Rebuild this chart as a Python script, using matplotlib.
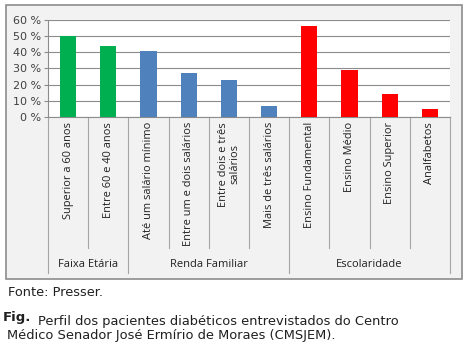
import matplotlib
matplotlib.use('Agg')
from matplotlib import pyplot as plt
from matplotlib.patches import Rectangle

categories = ['Superior a 60 anos', 'Entre 60 e 40 anos',
              'Até um salário mínimo', 'Entre um e dois salários',
              'Entre dois e três\nsalários', 'Mais de três salários',
              'Ensino Fundamental', 'Ensino Médio', 'Ensino Superior',
              'Analfabetos']
values = [50, 44, 41, 27, 23, 7, 56, 29, 14, 5]
groups = ['Faixa Etária', 'Renda Familiar', 'Escolaridade']
group_sizes = [2, 4, 4]
group_colors = ['#00B050', '#4F81BD', '#FF0000']
yticks = [0, 10, 20, 30, 40, 50, 60]

W, H = 470, 360
fig = plt.figure(figsize=(W / 100, H / 100), dpi=100)
fig.patch.set_facecolor('white')

# outer chart box
fig.patches.append(Rectangle((6 / W, 1 - 279 / H), 456 / W, 274 / H,
                             transform=fig.transFigure, facecolor='#F2F2F2',
                             edgecolor='#8C8C8C', linewidth=1.2, zorder=-5))

x0, x1, ytop, ybot = 48, 450, 20, 117
ax = fig.add_axes([x0 / W, 1 - ybot / H, (x1 - x0) / W, (ybot - ytop) / H])
ax.set_facecolor('white')

colors = []
for c, n in zip(group_colors, group_sizes):
    colors += [c] * n

pos = list(range(len(categories)))
ax.bar(pos, values, width=0.4, color=colors, zorder=3)
ax.set_xlim(-0.5, len(categories) - 0.5)
ax.set_ylim(0, 60)
ax.set_yticks(yticks)
ax.set_yticklabels([f'{v} %' for v in yticks])
ax.tick_params(axis='y', length=3, color='#8C8C8C', labelsize=8,
               labelcolor='#404040', pad=2)
ax.set_xticks([])
ax.grid(axis='y', color='#8C8C8C', linewidth=0.8, zorder=0)
for s in ['top', 'right']:
    ax.spines[s].set_visible(False)
for s in ['left', 'bottom']:
    ax.spines[s].set_color('#8C8C8C')
    ax.spines[s].set_linewidth(0.8)

font = 'Open Sans'
tr = ax.get_xaxis_transform()
ph = ybot - ytop
inner_end = (ybot - 248) / ph
group_end = (ybot - 273) / ph
label_top = (ybot - 122) / ph
group_y = (ybot - 265) / ph

for i, lab in enumerate(categories):
    ax.text(i, label_top, lab, rotation=90, ha='center', va='top',
            multialignment='center', transform=tr, fontsize=7.9,
            family=font, color='#202020', linespacing=1.05)

bounds = [0]
for n in group_sizes:
    bounds.append(bounds[-1] + n)
group_bounds = set(bounds)
for b in range(len(categories) + 1):
    end = group_end if b in group_bounds else inner_end
    ax.plot([b - 0.5, b - 0.5], [0, end], transform=tr, color='#A6A6A6',
            linewidth=0.8, clip_on=False)

for g, a, b in zip(groups, bounds[:-1], bounds[1:]):
    ax.text((a + b - 1) / 2, group_y, g, ha='center', va='center',
            transform=tr, fontsize=8, family=font, color='#202020')

fig.text(8 / W, 1 - 293 / H, 'Fonte: Presser.', fontsize=9.3, va='center',
         family='DejaVu Sans', color='#202020')
fig.text(3 / W, 1 - 317 / H, 'Fig.', fontsize=9.5, va='center',
         family='DejaVu Sans', fontweight='bold', color='#202020')
fig.text(38 / W, 1 - 321 / H,
         'Perfil dos pacientes diabéticos entrevistados do Centro',
         fontsize=9.4, va='center', family='DejaVu Sans', color='#202020')
fig.text(7 / W, 1 - 335 / H,
         'Médico Senador José Ermírio de Moraes (CMSJEM).',
         fontsize=9.4, va='center', family='DejaVu Sans', color='#202020')

fig.savefig('out.png', dpi=100)
